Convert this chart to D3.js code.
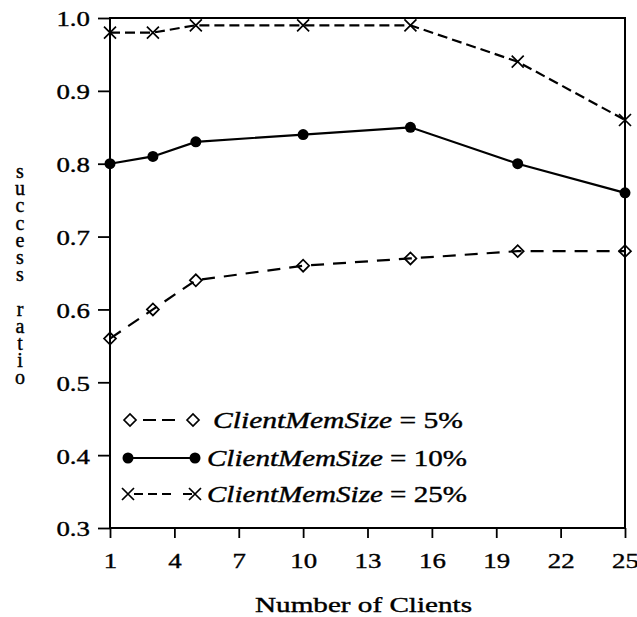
<!DOCTYPE html>
<html>
<head>
<meta charset="utf-8">
<script src="https://cdn.jsdelivr.net/npm/d3@7"></script>
<style>
html,body{margin:0;padding:0;background:#fff;}
text{font-family:"Liberation Serif","Times New Roman",serif;fill:#000;stroke:#000;stroke-width:0.4px;}
</style>
</head>
<body>
<svg id="chart" width="637" height="617"></svg>
<script>
// ---- data ----
const clients = [1, 3, 5, 10, 15, 20, 25];
const mem5  = [0.56, 0.60, 0.64, 0.66, 0.67, 0.68, 0.68];
const mem10 = [0.80, 0.81, 0.83, 0.84, 0.85, 0.80, 0.76];
const mem25 = [0.98, 0.98, 0.99, 0.99, 0.99, 0.94, 0.86];
const xTicks = [1, 4, 7, 10, 13, 16, 19, 22, 25];
const yTicks = [0.3, 0.4, 0.5, 0.6, 0.7, 0.8, 0.9, 1.0];
const seriesNames = ["5%", "10%", "25%"];
const xTitle = "Number of Clients";
const yTitle = "success ratio";

const svg = d3.select("#chart");
const L = 110, R = 625, T = 18, B = 528;
const x = d3.scaleLinear().domain([1, 25]).range([L, R]);
const y = d3.scaleLinear().domain([0.3, 1.0]).range([B, T]);
const HS = 1.22; // horizontal stretch of text to mimic the scan

function stretch(sel, factor) {
  sel.each(function () {
    const w = this.getComputedTextLength();
    d3.select(this).attr("textLength", w * factor).attr("lengthAdjust", "spacingAndGlyphs");
  });
}

// frame
svg.append("rect").attr("x", L).attr("y", T).attr("width", R - L).attr("height", B - T)
  .attr("fill", "none").attr("stroke", "#000").attr("stroke-width", 2);

// axes
const yAxis = svg.append("g").attr("transform", `translate(${L},0)`)
  .call(d3.axisLeft(y).tickValues(yTicks).tickFormat(d3.format(".1f")).tickSize(12).tickPadding(8));
const xAxis = svg.append("g").attr("transform", `translate(0,${B})`)
  .call(d3.axisBottom(x).tickValues(xTicks).tickFormat(d3.format("d")).tickSize(10).tickPadding(14));
[yAxis, xAxis].forEach(a => {
  a.select(".domain").remove();
  a.selectAll(".tick line").attr("stroke", "#000").attr("stroke-width", 1.8);
  a.selectAll(".tick text").attr("font-size", 22).attr("font-family", "Liberation Serif").attr("fill", "#000");
});
yAxis.selectAll(".tick text").attr("dy", "0.36em").call(stretch, HS);
xAxis.selectAll(".tick text").attr("dy", "0.72em").call(stretch, HS);

// titles
svg.append("text").attr("x", (L + R) / 2 - 4).attr("y", 612)
  .attr("text-anchor", "middle").attr("font-size", 22).text(xTitle)
  .attr("textLength", 217).attr("lengthAdjust", "spacingAndGlyphs");

// vertical stacked y title (single text, upright letters)
svg.append("text").attr("x", 20).attr("y", 160)
  .attr("font-size", 20)
  .style("writing-mode", "vertical-rl")
  .style("text-orientation", "upright")
  .style("letter-spacing", "-4.8px")
  .text(yTitle);

// series
const line = d3.line().x(d => x(d[0])).y(d => y(d[1]));
const series = [
  { name: seriesNames[0], vals: mem5, dash: "13,9", marker: "diamond" },
  { name: seriesNames[1], vals: mem10, dash: null, marker: "circle" },
  { name: seriesNames[2], vals: mem25, dash: "10,5", marker: "cross" }
];

function drawMarker(g, type, cx, cy) {
  if (type === "diamond") {
    g.append("path").attr("d", `M${cx - 6},${cy} L${cx},${cy - 6} L${cx + 6},${cy} L${cx},${cy + 6} Z`)
      .attr("fill", "none").attr("stroke", "#000").attr("stroke-width", 1.7);
  } else if (type === "circle") {
    g.append("circle").attr("cx", cx).attr("cy", cy).attr("r", 5.5).attr("fill", "#000");
  } else {
    g.append("path").attr("d", `M${cx - 6},${cy - 6} L${cx + 6},${cy + 6} M${cx - 6},${cy + 6} L${cx + 6},${cy - 6}`)
      .attr("stroke", "#000").attr("stroke-width", 1.7).attr("fill", "none");
  }
}

series.forEach(s => {
  const pts = clients.map((c, i) => [c, s.vals[i]]);
  svg.append("path").datum(pts).attr("d", line).attr("fill", "none")
    .attr("stroke", "#000").attr("stroke-width", 2.2)
    .attr("stroke-dasharray", s.dash);
  const g = svg.append("g");
  pts.forEach(p => drawMarker(g, s.marker, x(p[0]), y(p[1])));
});

// legend
const legRows = [
  { y: 420, x1: 130, x2: 193, tx: 213, tw: 250 },
  { y: 458, x1: 128, x2: 195, tx: 207, tw: 260 },
  { y: 494, x1: 128, x2: 195, tx: 207, tw: 260 }
];
series.forEach((s, i) => {
  const r = legRows[i];
  const g = svg.append("g");
  g.append("line").attr("x1", r.x1).attr("x2", r.x2).attr("y1", r.y).attr("y2", r.y)
    .attr("stroke", "#000").attr("stroke-width", 2)
    .attr("stroke-dasharray", s.dash ? (i === 0 ? "0,13,13,6,13,13" : "0,6,9,5,9,5,9,6") : null);
  drawMarker(g, s.marker, r.x1, r.y);
  drawMarker(g, s.marker, r.x2, r.y);
  const t = g.append("text").attr("x", r.tx).attr("y", r.y + 8).attr("font-size", 23);
  t.append("tspan").attr("font-style", "italic").text("ClientMemSize");
  t.append("tspan").text(" = " + s.name);
  t.attr("textLength", r.tw).attr("lengthAdjust", "spacingAndGlyphs");
});
</script>
</body>
</html>
